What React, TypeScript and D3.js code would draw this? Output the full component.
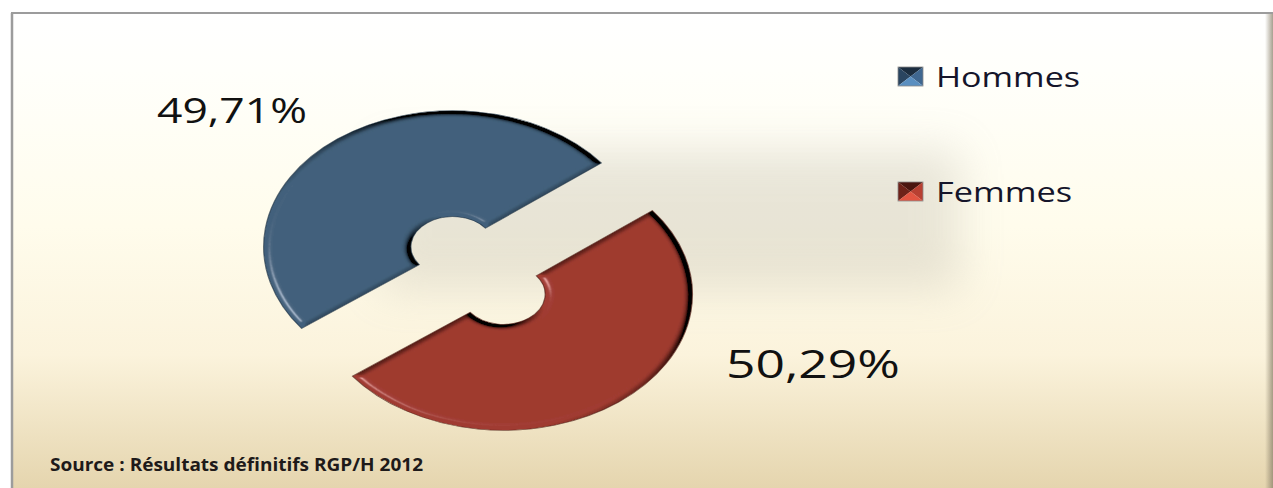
import React from "react";
import * as d3 from "d3";

// ---- data ----
const categories = ["Hommes", "Femmes"];
const values = [49.71, 50.29];
const valueLabels = ["49,71%", "50,29%"];
const sourceText = "Source : Résultats définitifs RGP/H 2012";

// ---- styles / layout ----
const palette = ["#42617c", "#a03b30"];
const rimDark = ["#1d3043", "#4d1a13"];
const markerShades = [
  ["#1b2d3f", "#2a4560", "#3f6790", "#5a8fc0"],
  ["#4a150f", "#6e2219", "#b84032", "#e25542"],
];

const W = 1273;
const H = 488;
const SX = 1.39; // horizontal stretch of the picture
const CX0 = 343.9;
const CY0 = 270.5;
const R_OUT = 136;
const R_IN = 30;
const EXPLODE = 30;
const START = (233 * Math.PI) / 180;

const labelLayout = [
  { x: 157, y: 123, len: 150, size: 35 },
  { x: 726, y: 378, len: 174, size: 38 },
];
const legendLayout = [
  { y: 67, len: 144 },
  { y: 182, len: 136 },
];

export default function App() {
  const pie = d3
    .pie<number>()
    .sort(null)
    .value((d) => d)
    .startAngle(START)
    .endAngle(START + 2 * Math.PI);
  const arcs = pie(values);
  const arc = d3.arc<d3.PieArcDatum<number>>().innerRadius(R_IN).outerRadius(R_OUT);

  return (
    <svg
      width={W}
      height={H}
      style={{ position: "absolute", left: 0, top: 0, display: "block" }}
      fontFamily="'Open Sans', 'DejaVu Sans', sans-serif"
    >
      <defs>
        <linearGradient id="bg" x1="0" y1="0" x2="0" y2="1">
          <stop offset="0" stopColor="#ffffff" />
          <stop offset="0.12" stopColor="#fffffb" />
          <stop offset="0.45" stopColor="#fffcec" />
          <stop offset="0.72" stopColor="#fbf3dc" />
          <stop offset="1" stopColor="#e5d5ae" />
        </linearGradient>
        <linearGradient id="rshade" x1="0" y1="0" x2="1" y2="0">
          <stop offset="0" stopColor="#8a806a" stopOpacity="0" />
          <stop offset="1" stopColor="#8a806a" stopOpacity="0.75" />
        </linearGradient>
        <filter id="blob" x="-50%" y="-50%" width="200%" height="200%">
          <feGaussianBlur stdDeviation="22" />
        </filter>
        <filter id="bevel" x="-10%" y="-10%" width="120%" height="120%">
          <feGaussianBlur in="SourceAlpha" stdDeviation="2.6" result="b" />
          <feDiffuseLighting in="b" surfaceScale="6" diffuseConstant="1.62" lightingColor="#ffffff" result="l">
            <feDistantLight azimuth={135} elevation={38} />
          </feDiffuseLighting>
          <feSpecularLighting in="b" surfaceScale="6" specularConstant="1" specularExponent="40" lightingColor="#ffffff" result="sp">
            <feDistantLight azimuth={135} elevation={30} />
          </feSpecularLighting>
          <feComposite in="SourceGraphic" in2="l" operator="arithmetic" k1={1} k2={0} k3={0} k4={0} result="lit" />
          <feComposite in="lit" in2="sp" operator="arithmetic" k1={0.5} k2={1} k3={0.25} k4={0} result="lit2" />
          <feComposite in="lit2" in2="SourceAlpha" operator="in" />
        </filter>
      </defs>

      {/* background */}
      <rect x={11} y={13} width={W - 11} height={H - 13} fill="url(#bg)" />
      <rect x={380} y={150} width={580} height={140} fill="#b5b0a2" opacity={0.3} filter="url(#blob)" />
      <rect x={W - 8} y={13} width={8} height={H - 13} fill="url(#rshade)" />
      <line x1={11} y1={13} x2={W} y2={13} stroke="#9c9c9c" strokeWidth={2} />
      <line x1={12} y1={13} x2={12} y2={H} stroke="#9c9c9c" strokeWidth={2.5} />

      {/* doughnut */}
      <g transform={`scale(${SX},1)`}>
        {arcs.map((a, i) => {
          const mid = (a.startAngle + a.endAngle) / 2;
          const dx = Math.sin(mid) * EXPLODE;
          const dy = -Math.cos(mid) * EXPLODE;
          return (
            <g key={categories[i]} transform={`translate(${CX0 + dx},${CY0 + dy})`}>
              <path d={arc(a) || ""} fill={palette[i]} filter="url(#bevel)" />
              <path d={arc(a) || ""} fill="none" stroke={rimDark[i]} strokeWidth={0.8} strokeOpacity={0.7} />
            </g>
          );
        })}
      </g>

      {/* value labels */}
      {valueLabels.map((t, i) => (
        <text
          key={t}
          x={labelLayout[i].x}
          y={labelLayout[i].y}
          fontSize={labelLayout[i].size}
          textLength={labelLayout[i].len}
          lengthAdjust="spacingAndGlyphs"
          fill="#111111"
        >
          {t}
        </text>
      ))}

      {/* legend */}
      {categories.map((c, i) => {
        const y = legendLayout[i].y;
        const x0 = 898;
        const w = 25;
        const h = 19;
        const cx = x0 + w / 2;
        const cy = y + h / 2;
        const s = markerShades[i];
        return (
          <g key={c}>
            <polygon points={`${x0},${y} ${x0 + w},${y} ${cx},${cy}`} fill={s[0]} />
            <polygon points={`${x0},${y} ${cx},${cy} ${x0},${y + h}`} fill={s[1]} />
            <polygon points={`${x0 + w},${y} ${x0 + w},${y + h} ${cx},${cy}`} fill={s[2]} />
            <polygon points={`${x0},${y + h} ${cx},${cy} ${x0 + w},${y + h}`} fill={s[3]} />
            <rect x={x0} y={y} width={w} height={h} fill="none" stroke="#8a8a8a" strokeWidth={0.8} />
            <text
              x={936}
              y={y + 20}
              fontSize={28}
              textLength={legendLayout[i].len}
              lengthAdjust="spacingAndGlyphs"
              fill="#15152a"
            >
              {c}
            </text>
          </g>
        );
      })}

      {/* source */}
      <text
        x={50}
        y={471}
        fontSize={18}
        fontWeight="bold"
        textLength={373}
        lengthAdjust="spacingAndGlyphs"
        fill="#1e1a1a"
      >
        {sourceText}
      </text>
    </svg>
  );
}
